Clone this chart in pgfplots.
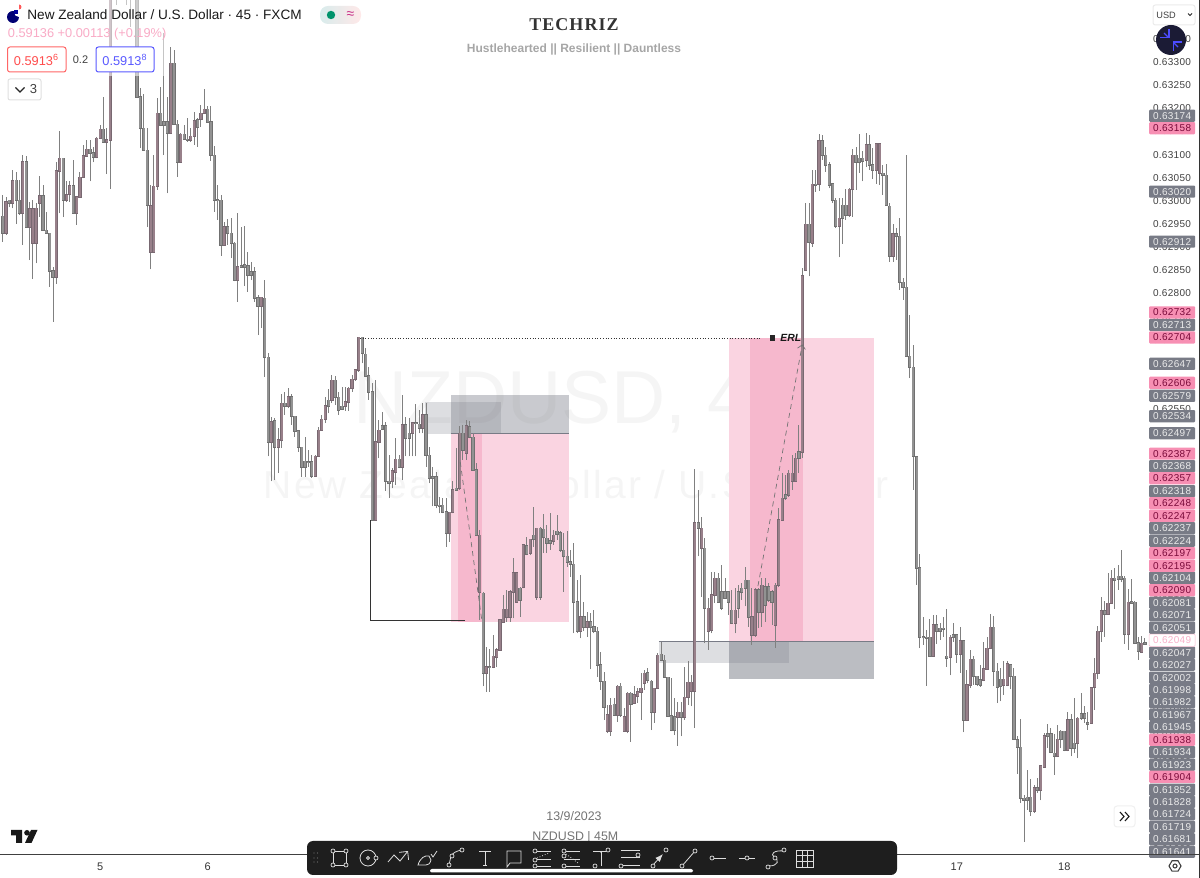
\documentclass[border=0pt]{standalone}
\usepackage{fontspec}
\setmainfont{Liberation Sans}
\newfontfamily\tagf[LetterSpace=3]{Liberation Sans}
\newfontfamily\serf{Liberation Serif}
\usepackage{pgfplots}
\usepackage{pgfplotstable}
\pgfplotsset{compat=1.18}
\usetikzlibrary{arrows.meta}
\newcommand{\fs}[1]{\fontsize{#1}{#1}\selectfont}
\definecolor{wick}{HTML}{808080}
\definecolor{gbody}{HTML}{929292}
\definecolor{gedge}{HTML}{707070}
\definecolor{mbody}{HTML}{98808A}
\definecolor{medge}{HTML}{786871}
\definecolor{palepink}{HTML}{FAD4E1}
\definecolor{darkpink}{HTML}{F6B8CD}
\definecolor{tvgray}{HTML}{787B86}
\definecolor{tagpink}{HTML}{F78FB3}
\definecolor{tagtext}{HTML}{7A0B3A}
\definecolor{bar}{HTML}{1E1E1E}
\definecolor{ico}{HTML}{DDDDDD}
\tikzset{tagnode/.style={anchor=center,inner sep=0pt,minimum width=23pt,minimum height=6.1pt,rounded corners=0.5pt,font=\tagf\fs{5}}}
\pgfplotsset{stick/.style 2 args={no marks,draw=none,forget plot,error bars/.cd,y dir=both,y explicit,error mark=none,error bar style={draw=#1,line width=#2}}}

% prices in 1e-5 units: k high low bodytop bodybottom up
\pgfplotstableread{
k h l t b u
0 63013 62912 62967 62930 0
1 63009 62926 62998 62930 1
2 63002 62986 63002 62995 0
3 63067 62984 63044 62995 1
4 63063 62950 63045 63001 0
5 63045 62970 63001 62973 0
6 63099 62905 63085 62973 1
7 63096 62944 63085 62944 0
8 62998 62872 62983 62944 1
9 63002 62831 62983 62908 1
10 62995 62865 62984 62908 1
11 63054 62966 63011 62995 1
12 63034 62937 63011 62937 0
13 62977 62930 62937 62931 0
14 62930 62815 62930 62849 0
15 62858 62739 62849 62835 0
16 63085 62821 63065 62835 1
17 63150 62973 63092 63065 1
18 63092 62965 63092 63001 0
19 63042 62998 63013 63001 1
20 63042 62998 63033 63015 1
21 63088 62973 63033 62973 0
22 63009 62948 63009 62973 1
23 63063 63009 63051 63009 1
24 63121 63049 63098 63051 1
25 63132 63097 63112 63098 1
26 63132 63042 63112 63104 0
27 63117 63083 63104 63094 0
28 63139 63092 63135 63094 1
29 63164 63135 63155 63135 1
30 63225 63128 63155 63128 0
31 63157 63058 63132 63128 1
32 63480 63026 63450 63132 1
33 63500 63440 63490 63450 0
34 63470 63423 63460 63440 0
35 63520 63450 63500 63460 1
36 63530 63450 63510 63470 0
37 63480 63423 63470 63450 0
38 63490 63376 63480 63450 0
39 63520 63440 63500 63460 0
40 63480 63222 63470 63225 0
41 63243 63114 63225 63157 0
42 63232 63110 63157 63110 0
43 63157 62944 63110 62991 0
44 63034 62852 62990 62889 1
45 63099 62889 63032 62889 1
46 63222 63024 63189 63032 1
47 63247 63164 63189 63164 0
48 63362 63099 63171 63164 0
49 63225 63016 63171 63146 0
50 63332 63146 63297 63146 1
51 63326 63164 63297 63166 0
52 63175 63052 63166 63085 0
53 63146 63085 63144 63085 1
54 63164 63132 63144 63133 0
55 63178 63128 63133 63132 0
56 63157 63128 63140 63132 1
57 63193 63121 63173 63140 1
58 63178 63117 63175 63160 0
59 63207 63160 63189 63176 1
60 63241 63189 63198 63189 1
61 63204 63171 63198 63171 0
62 63204 63087 63171 63099 0
63 63119 62977 63099 63002 0
64 63034 62959 63003 63002 0
65 63013 62881 63002 62905 0
66 62955 62905 62944 62905 1
67 62960 62905 62944 62930 0
68 62962 62876 62930 62908 0
69 62912 62826 62908 62829 0
70 62973 62782 62858 62829 1
71 62944 62858 62860 62858 0
72 62946 62816 62862 62858 0
73 62890 62804 62860 62840 0
74 62869 62829 62847 62840 0
75 62858 62782 62847 62790 0
76 62797 62710 62791 62772 0
77 62793 62725 62792 62772 1
78 62829 62620 62790 62662 0
79 62672 62448 62662 62480 0
80 62534 62394 62523 62480 1
81 62530 62397 62525 62469 0
82 62509 62412 62484 62469 1
83 62583 62466 62563 62484 1
84 62588 62538 62563 62557 0
85 62595 62552 62577 62557 1
86 62583 62516 62577 62535 0
87 62535 62491 62535 62504 0
88 62505 62458 62504 62468 0
89 62469 62404 62468 62426 0
90 62489 62404 62438 62426 0
91 62462 62426 62437 62435 0
92 62451 62401 62437 62406 0
93 62451 62404 62449 62406 1
94 62511 62448 62505 62449 1
95 62538 62505 62528 62505 1
96 62577 62520 62558 62528 1
97 62593 62541 62569 62557 0
98 62624 62563 62613 62570 1
99 62622 62559 62613 62576 0
100 62588 62538 62576 62548 0
101 62599 62548 62556 62550 0
102 62599 62547 62566 62556 1
103 62599 62547 62595 62566 1
104 62624 62588 62615 62595 1
105 62636 62612 62635 62615 1
106 62705 62631 62705 62635 1
107 62705 62649 62705 62671 0
108 62682 62620 62669 62622 0
109 62642 62570 62622 62588 0
110 62606 62311 62588 62311 0
111 62613 62311 62480 62311 1
112 62527 62444 62505 62480 1
113 62545 62505 62514 62507 0
114 62523 62374 62514 62394 0
115 62451 62358 62394 62391 0
116 62422 62379 62417 62394 1
117 62487 62386 62442 62415 1
118 62451 62422 62442 62426 0
119 62581 62397 62516 62426 1
120 62534 62448 62516 62487 0
121 62530 62448 62498 62487 0
122 62521 62448 62521 62499 1
123 62561 62448 62521 62520 0
124 62548 62498 62518 62509 0
125 62563 62498 62538 62509 1
126 62564 62426 62538 62451 0
127 62469 62390 62451 62401 0
128 62426 62340 62404 62401 0
129 62415 62336 62404 62343 0
130 62361 62325 62343 62340 0
131 62358 62325 62343 62329 0
132 62358 62253 62329 62282 0
133 62329 62264 62327 62283 1
134 62394 62325 62376 62329 1
135 62466 62376 62379 62376 0
136 62514 62376 62498 62379 1
137 62516 62440 62498 62462 0
138 62527 62440 62514 62455 1
139 62525 62487 62512 62489 0
140 62498 62419 62489 62419 0
141 62433 62278 62419 62278 0
142 62289 62095 62278 62156 1
143 62156 61951 62152 61980 0
144 62037 61940 61994 61981 1
145 62031 61940 61994 61993 0
146 62062 61990 62016 61993 1
147 62034 61993 62030 62014 1
148 62095 62029 62095 62030 1
149 62149 62091 62118 62091 1
150 62160 62091 62118 62102 1
151 62160 62091 62156 62102 1
152 62228 62098 62197 62156 1
153 62199 62134 62197 62134 1
154 62167 62102 62163 62137 0
155 62257 62163 62257 62165 1
156 62275 62235 62255 62237 0
157 62269 62235 62269 62239 1
158 62338 62253 62278 62269 0
159 62293 62138 62293 62145 1
160 62296 62138 62293 62145 0
161 62324 62239 62291 62273 0
162 62300 62239 62271 62260 0
163 62325 62246 62266 62260 0
164 62289 62257 62278 62266 1
165 62322 62268 62286 62281 0
166 62286 62242 62283 62245 0
167 62282 62156 62245 62232 0
168 62286 62210 62232 62221 0
169 62246 62188 62221 62215 0
170 62260 62066 62215 62134 0
171 62181 62066 62134 62070 0
172 62192 62055 62102 62070 1
173 62134 62070 62102 62080 0
174 62113 62059 62091 62080 1
175 62109 61988 62091 62080 0
176 62116 62066 62080 62070 0
177 62080 61972 62070 61998 0
178 62026 61944 61998 61962 0
179 61983 61879 61962 61906 0
180 61911 61850 61890 61854 1
181 61926 61845 61911 61854 1
182 61926 61890 61913 61890 0
183 61954 61875 61951 61890 1
184 61958 61886 61951 61890 0
185 61904 61854 61886 61854 1
186 61940 61850 61936 61854 1
187 61940 61832 61936 61913 0
188 61951 61915 61933 61915 1
189 61947 61915 61940 61931 1
190 61980 61879 61947 61940 1
191 61987 61944 61980 61959 1
192 61990 61958 61981 61964 0
193 61965 61857 61962 61895 0
194 61947 61873 61947 61895 1
195 62023 61947 62019 61947 1
196 62048 62005 62021 62008 0
197 62019 61971 62008 61972 0
198 61972 61886 61971 61888 0
199 61969 61854 61888 61857 0
200 61926 61846 61886 61857 0
201 61918 61823 61895 61885 1
202 61918 61843 61895 61886 0
203 61994 61879 61928 61886 1
204 62005 61911 61960 61928 1
205 61976 61908 61960 61941 1
206 62420 61861 62305 61941 1
207 62376 62232 62305 62293 0
208 62318 62145 62293 62250 1
209 62271 62044 62250 62120 0
210 62142 62030 62120 62070 1
211 62199 62066 62149 62072 1
212 62199 62131 62185 62149 1
213 62196 62134 62185 62134 0
214 62214 62116 62156 62120 0
215 62185 62142 62156 62142 0
216 62156 62106 62156 62134 0
217 62160 62088 62116 62088 0
218 62163 62066 62116 62088 1
219 62170 62098 62156 62120 0
220 62174 62138 62163 62156 0
221 62210 62124 62180 62163 0
222 62181 62080 62180 62102 0
223 62163 62041 62102 62062 1
224 62163 62059 62160 62062 1
225 62163 62077 62160 62113 0
226 62185 62080 62170 62113 1
227 62185 62091 62167 62127 0
228 62174 62134 62167 62138 0
229 62160 62084 62156 62134 0
230 62174 62034 62170 62084 1
231 62336 62165 62311 62170 1
232 62412 62309 62358 62311 1
233 62408 62354 62365 62358 0
234 62419 62361 62412 62365 1
235 62451 62376 62412 62394 1
236 62455 62394 62444 62394 1
237 62516 62412 62458 62444 0
238 62855 62445 62838 62458 1
239 62995 62851 62950 62851 1
240 62995 62837 62950 62912 0
241 63067 62901 63036 62910 1
242 63067 63020 63036 63035 0
243 63145 63022 63130 63037 1
244 63143 63089 63130 63099 0
245 63116 63063 63099 63078 0
246 63085 63027 63078 63035 0
247 63038 62995 63037 63002 0
248 63006 62941 63002 62945 0
249 63006 62878 62963 62945 1
250 63006 62907 62991 62963 0
251 63025 62959 62991 62970 0
252 63027 62966 63025 62970 1
253 63112 62966 63099 63025 1
254 63117 63024 63099 63085 0
255 63145 63061 63092 63085 0
256 63107 63042 63092 63087 0
257 63146 63073 63121 63089 1
258 63143 63067 63121 63078 0
259 63114 63047 63078 63067 0
260 63123 63037 63123 63067 1
261 63123 63035 63123 63060 1
262 63078 63013 63060 63056 0
263 63080 62989 63056 62991 0
264 62995 62869 62989 62881 0
265 62950 62869 62929 62881 1
266 62941 62873 62929 62924 0
267 62963 62808 62924 62824 0
268 62833 62786 62824 62814 0
269 63099 62664 62814 62664 0
270 62754 62617 62664 62641 0
271 62689 62376 62641 62448 0
272 62448 62171 62447 62208 0
273 62238 62034 62208 62057 0
274 62102 62041 62059 62057 0
275 62074 61953 62058 62056 0
276 62097 62016 62057 62017 0
277 62106 62017 62084 62017 1
278 62106 62043 62084 62070 0
279 62088 62052 62077 62070 0
280 62102 62059 62077 62075 0
281 62119 61994 62016 62012 0
282 62063 61975 62057 62015 1
283 62088 62048 62063 62058 0
284 62063 62002 62063 62021 0
285 62079 61981 62050 62021 1
286 62050 61852 62050 61879 0
287 61987 61876 61955 61878 1
288 62030 61948 62010 61955 1
289 62016 61955 62010 61973 0
290 61973 61951 61973 61957 0
291 61998 61950 61966 61955 0
292 62048 61962 61989 61966 1
293 62059 61987 62034 61989 1
294 62107 62034 62079 62034 1
295 62104 61951 62079 61984 0
296 62002 61915 61984 61950 0
297 61992 61919 61967 61951 0
298 62005 61933 61967 61955 1
299 62007 61951 62000 61955 1
300 61998 61945 61998 61973 0
301 61992 61837 61973 61837 0
302 61843 61763 61836 61820 0
303 61881 61699 61820 61710 0
304 61717 61616 61710 61705 0
305 61771 61685 61712 61705 0
306 61751 61672 61712 61681 0
307 61739 61678 61732 61681 1
308 61753 61721 61732 61728 0
309 61780 61705 61780 61728 1
310 61850 61777 61845 61778 1
311 61871 61818 61849 61845 0
312 61861 61807 61849 61809 0
313 61849 61760 61807 61801 0
314 61868 61801 61837 61801 1
315 61858 61818 61854 61837 0
316 61854 61811 61854 61813 0
317 61895 61811 61879 61814 1
318 61892 61800 61879 61818 0
319 61926 61807 61829 61818 0
320 61886 61796 61883 61830 1
321 61937 61879 61892 61883 0
322 61908 61873 61892 61883 0
323 61895 61858 61873 61871 0
324 61950 61871 61948 61872 1
325 62012 61901 61980 61950 1
326 62082 61967 62070 61980 1
327 62144 62048 62115 62070 1
328 62135 62059 62115 62108 0
329 62196 62106 62131 62108 1
330 62203 62130 62185 62131 1
331 62207 62118 62185 62182 0
332 62214 62160 62189 62183 0
333 62246 62176 62189 62184 0
334 62189 62043 62185 62065 0
335 62161 62030 62133 62065 1
336 62183 62131 62134 62131 0
337 62135 62045 62133 62046 0
338 62059 62009 62046 62027 0
339 62061 62025 62045 62025 1
340 62056 62041 62046 62043 0
}\candles

\pgfplotstableread{
y lab
63184 0.63174
63020 0.63020
62912 0.62912
62732 0.62713
62648 0.62647
62579 0.62579
62535 0.62534
62498 0.62497
62427 0.62368
62373 0.62318
62293 0.62237
62266 0.62224
62186 0.62104
62132 0.62081
62105 0.62071
62078 0.62051
62024 0.62047
61998 0.62027
61970 0.62002
61944 0.61998
61917 0.61982
61890 0.61967
61863 0.61945
61809 0.61934
61782 0.61923
61728 0.61852
61702 0.61828
61675 0.61724
61648 0.61719
61621 0.61681
61594 0.61641
}\taggray
\pgfplotstableread{
y lab
63157 0.63158
62759 0.62732
62705 0.62704
62607 0.62606
62454 0.62387
62401 0.62357
62347 0.62248
62320 0.62247
62239 0.62197
62212 0.62195
62159 0.62090
61836 0.61938
61756 0.61904
}\tagpinks

\begin{document}
\begin{tikzpicture}
\path[use as bounding box] (0,-11.5pt) rectangle (600pt,427.5pt);
% watermark behind everything
\begin{scope}[shift={(0pt,427.5pt)},x=0.5pt,y=-0.5pt]
\node[text=black!4,anchor=center] at (572,402) {\fs{37.5}NZDUSD, 45};
\node[text=black!4,anchor=center] at (576,485) {\fs{19.5}\addfontfeature{LetterSpace=6}New Zealand Dollar / U.S. Dollar};
\end{scope}
\begin{axis}[
  scale only axis, width=574pt, height=427.5pt,
  xmin=-0.8, xmax=340.9, ymin=61587, ymax=63434,
  axis line style={draw=none}, major tick length=0pt,
  scaled ticks=false,
  xtick={29,61,284,316}, xticklabels={5,6,17,18},
  xticklabel style={font=\fs{5.5},text=black!80,yshift=-0.5pt},
  ytick={61600,61650,...,63350},
  yticklabels={0.61600,0.61650,0.61700,0.61750,0.61800,0.61850,0.61900,0.61950,0.62000,0.62050,0.62100,0.62150,0.62200,0.62250,0.62300,0.62350,0.62400,0.62450,0.62500,0.62550,0.62600,0.62650,0.62700,0.62750,0.62800,0.62850,0.62900,0.62950,0.63000,0.63050,0.63100,0.63150,0.63200,0.63250,0.63300,0.63350},
  yticklabel pos=right,
  yticklabel style={font=\tagf\fs{5},text=black!75,anchor=center,xshift=12pt},
]
% zones
\addplot[fill=palepink,draw=none,forget plot] coordinates {(133.4,62499)(168.5,62499)(168.5,62090)(133.4,62090)} --cycle;
\addplot[fill=darkpink,draw=none,forget plot] coordinates {(135.5,62499)(142.6,62499)(142.6,62090)(135.5,62090)} --cycle;
\addplot[fill=palepink,draw=none,forget plot] coordinates {(216.2,62704)(259.3,62704)(259.3,62049)(216.2,62049)} --cycle;
\addplot[fill=darkpink,draw=none,forget plot] coordinates {(222.3,62704)(238.3,62704)(238.3,62049)(222.3,62049)} --cycle;
\addplot[fill=tvgray,fill opacity=0.4,draw=none,forget plot] coordinates {(133.4,62581)(168.5,62581)(168.5,62497)(133.4,62497)} --cycle;
\addplot[fill=tvgray,fill opacity=0.25,draw=none,forget plot] coordinates {(125.7,62565)(148.3,62565)(148.3,62497)(125.7,62497)} --cycle;
\addplot[fill=tvgray,fill opacity=0.5,draw=none,forget plot] coordinates {(216.2,62049)(259.3,62049)(259.3,61968)(216.2,61968)} --cycle;
\addplot[fill=tvgray,fill opacity=0.25,draw=none,forget plot] coordinates {(195.3,62049)(234,62049)(234,62001)(195.3,62001)} --cycle;
\addplot[draw=tvgray,line width=0.4pt,forget plot] coordinates {(195.3,62049)(259.3,62049)};
\addplot[draw=tvgray,line width=0.4pt,forget plot] coordinates {(133.4,62497)(168.5,62497)};
% candles: wicks, then body edge and body fill as thick sticks
\addplot[stick={wick}{0.5pt}]
  table[x=k,y=l,y error plus expr=\thisrow{h}-\thisrow{l},y error minus expr=0] {\candles};
\addplot[stick={gedge}{1.6pt}]
  table[x expr={\thisrow{u}==0 ? \thisrow{k} : nan},y=b,y error plus expr=\thisrow{t}-\thisrow{b}+1,y error minus expr=1] {\candles};
\addplot[stick={gbody}{1pt}]
  table[x expr={\thisrow{u}==0 ? \thisrow{k} : nan},y=b,y error plus expr=\thisrow{t}-\thisrow{b},y error minus expr=0] {\candles};
\addplot[stick={medge}{1.6pt}]
  table[x expr={\thisrow{u}==1 ? \thisrow{k} : nan},y=b,y error plus expr=\thisrow{t}-\thisrow{b}+1,y error minus expr=1] {\candles};
\addplot[stick={mbody}{1pt}]
  table[x expr={\thisrow{u}==1 ? \thisrow{k} : nan},y=b,y error plus expr=\thisrow{t}-\thisrow{b},y error minus expr=0] {\candles};
% drawn lines
\addplot[draw=black!80,line width=0.5pt,forget plot] coordinates {(109.6,62311)(109.6,62094)(137.6,62094)};
\addplot[draw=black!80,line width=0.35pt,densely dotted,forget plot] coordinates {(106.3,62704)(225.7,62704)};
\addplot[draw=black!55,line width=0.35pt,dash pattern=on 2.5pt off 2pt,forget plot] coordinates {(136.2,62436)(142.6,62094)};
\addplot[draw=black!55,line width=0.35pt,dash pattern=on 2.5pt off 2pt,-{Straight Barb[length=2pt]},forget plot] coordinates {(224.8,62168)(238,62690)};
\end{axis}
% price tags on top of the tick labels
\begin{axis}[
  hide axis, scale only axis, width=600pt, height=427.5pt,
  xmin=-0.8, xmax=356.3, ymin=61587, ymax=63434, clip=false,
]
\addplot[no marks,draw=none,point meta=explicit symbolic,nodes near coords,
  every node near coord/.style={tagnode,fill=tvgray,text=white!92!black}]
  table[x expr=348,y=y,meta=lab] {\taggray};
\addplot[no marks,draw=none,point meta=explicit symbolic,nodes near coords,
  every node near coord/.style={tagnode,fill=tagpink,text=tagtext}]
  table[x expr=348,y=y,meta=lab] {\tagpinks};
\addplot[no marks,draw=none,point meta=explicit symbolic,nodes near coords,
  every node near coord/.style={tagnode,fill=white,draw=tagpink!60,line width=0.3pt,text=tagpink!70}]
  table[x expr=348,y=y,meta=lab] {
y lab
62051 0.62049
};
\end{axis}
% chart window furniture, in screen pixels
\begin{scope}[shift={(0pt,427.5pt)},x=0.5pt,y=-0.5pt]
\fill[white,opacity=0.55] (0,0) rectangle (165,76);
\draw[black!75,line width=0.5pt] (0,855) -- (1199,855);
\draw[black!80,line width=0.5pt] (1199.5,0) -- (1199.5,878);
% header
\fill[blue!45!black] (13,17) circle (6);
\fill[white] (19,12) circle (5);
\fill[red!65] (19,9.5) arc (90:-90:2.5) -- cycle;
\fill[blue!60!black] (14,10) rectangle (18,14);
\node[anchor=west,inner sep=0pt,text=black!90] at (27,15) {\fs{6.8}New Zealand Dollar / U.S. Dollar · 45 · FXCM};
\shade[left color=teal!15,right color=pink!35,rounded corners=4pt] (320,6) rectangle (361,24);
\fill[teal!85!green] (331,15) circle (4.2);
\node[text=magenta!80!black,inner sep=0pt] at (350.5,15) {\fs{7}≈};
\node[anchor=west,inner sep=0pt,text=tagpink!75] at (7.5,34.5) {\fs{6.4}0.59136 +0.00113 (+0.19\%)};
\draw[red!60,line width=0.5pt,fill=white,rounded corners=1.2pt] (7.5,47) rectangle (66,72);
\node[text=red!70,inner sep=0pt] at (36.5,59.5) {\fs{6.4}0.5913\textsuperscript{6}};
\node[text=black!75,inner sep=0pt] at (80.5,60) {\fs{5.5}0.2};
\draw[blue!65,line width=0.5pt,fill=white,rounded corners=1.2pt] (96,47) rectangle (154,72);
\node[text=blue!65,inner sep=0pt] at (125,59.5) {\fs{6.4}0.5913\textsuperscript{8}};
\draw[black!12,line width=0.5pt,fill=white,rounded corners=1pt] (8,79) rectangle (41,100);
\draw[black!85,line width=0.6pt] (15.5,87.5) -- (20,92) -- (24.5,87.5);
\node[text=black!75,inner sep=0pt] at (33.5,89.5) {\fs{6.5}3};
% title
\node[text=black!80] at (574,25) {\serf\bfseries\fs{9}\addfontfeature{LetterSpace=6}TECHRIZ};
\node[text=black!35] at (574,49) {\bfseries\fs{6}Hustlehearted || Resilient || Dauntless};
% ERL
\fill[black!85] (769.5,335.5) rectangle (775,341);
\node[anchor=west,inner sep=0pt,text=black!90] at (780,338) {\bfseries\itshape\fs{5.2}ERL};
% top right
\draw[black!8,line width=0.5pt,fill=white,rounded corners=1.2pt] (1153,5) rectangle (1195,25);
\node[anchor=west,inner sep=0pt,text=black!75] at (1156,15) {\fs{4.6}USD};
\draw[black!85,line width=0.5pt] (1188,13.5) -- (1190,15.5) -- (1192,13.5);
\fill[bar!90!blue] (1171,40) circle (15);
\draw[blue!70!white,line width=0.55pt,-{Straight Barb[length=3pt]}] (1164,33) -- (1169.5,38.5);
\draw[blue!70!white,line width=0.55pt,-{Straight Barb[length=3pt]}] (1178,47) -- (1172.5,41.5);
% bottom furniture
\fill[black!90] (11,830) -- (22,830) -- (22,843) -- (16,843) -- (16,835.5) -- (11,835.5) -- cycle;
\fill[black!90] (27,832.8) circle (2.8);
\fill[black!90] (31,830) -- (37.5,830) -- (31.5,843) -- (25,843) -- cycle;
\node[text=black!55,inner sep=0pt] at (574,816) {\fs{6.2}13/9/2023};
\node[text=black!55,inner sep=0pt,anchor=west] at (532,837) {\fs{6.2}NZDUSD | 45M};
\fill[white] (1114,806) rectangle (1135,827);
\draw[black!6,line width=0.5pt,rounded corners=1.5pt] (1114,806) rectangle (1135,827);
\draw[black!90,line width=0.55pt] (1120,812) -- (1124,816.5) -- (1120,821) (1125,812) -- (1129,816.5) -- (1125,821);
\draw[black!75,line width=0.55pt] (1169,866) -- (1172,860.8) -- (1178,860.8) -- (1181,866) -- (1178,871.2) -- (1172,871.2) -- cycle;
\draw[black!75,line width=0.55pt] (1175,866) circle (2);
% toolbar
\fill[bar,rounded corners=3pt] (307,841) rectangle (897,875);
\foreach \dx in {314,317.5} \foreach \dy in {853,858,862} \fill[black!55] (\dx,\dy) circle (0.7);
\tikzset{hd/.style={draw=ico,fill=bar,line width=0.35pt},ln/.style={draw=ico,line width=0.4pt}}
\newcommand{\hnd}[2]{\path[hd] (#1,#2) circle (2);}
\path[ln] (333,851) rectangle (346,865); \hnd{333}{851}\hnd{346}{851}\hnd{333}{865}\hnd{346}{865}
\path[ln] (368,858) circle (8); \path[ln] (368,858) circle (1.5); \hnd{376}{858}
\path[ln,-{Straight Barb[length=3pt]}] (388,862) -- (394,855) -- (400,861) -- (408,851);
\path[ln] (418,865) .. controls (420,858) and (425,855) .. (429,856) -- (431,860) .. controls (430,864) and (428,865) .. (426,865) -- cycle;
\path[ln] (431,854) -- (433,857) -- (437,851);
\path[ln] (449,865) -- (451,856) .. controls (453,853) and (456,851) .. (462,850); \hnd{449}{865}\hnd{452}{856}\hnd{462}{850}
\path[ln] (479,851) -- (491,851) (485,851) -- (485,865) (483,865) -- (487,865);
\path[ln] (507,867) -- (507,851) -- (521,851) -- (521,863) -- (510,863) -- cycle;
\path[ln] (535,851) -- (551,851) (535,859.5) -- (551,859.5) (535,866) -- (551,866); \path[ln,densely dotted] (537,858) -- (549,853); \hnd{535}{851}\hnd{535}{860}\hnd{535}{866}
\path[ln] (564,851) -- (580,851) (564,859.5) -- (580,859.5) (564,866) -- (580,866); \path[ln,densely dotted] (566,854) -- (578,863); \hnd{564}{851}\hnd{564}{856}\hnd{564}{866}
\path[ln] (593,851) -- (606,851) (601,852) -- (601,866); \hnd{608}{850}\hnd{595}{866}\fill[ico] (601,852) circle (1);
\path[ln] (621,850) -- (640,850) (621,857.5) -- (640,857.5) (621,865) -- (640,865); \hnd{638}{855}\hnd{621}{866}
\path[ln,-{Latex[length=4pt]}] (653,865) -- (663,854); \hnd{653}{866}\hnd{666}{850}
\path[ln] (682,866) -- (695,851); \hnd{682}{866}\hnd{695}{851}
\path[ln] (713,858) -- (726,858); \hnd{712}{858}
\path[ln] (739,858) -- (755,858); \hnd{747}{858}
\path[ln] (769,866) .. controls (778,866) and (780,860) .. (774,857) .. controls (770,854) and (774,850) .. (784,851); \hnd{768}{867}\hnd{775}{858}\hnd{784}{850}
\path[ln] (796,850) rectangle (813,867) (796,855.5) -- (813,855.5) (796,861) -- (813,861) (802,850) -- (802,867) (807.5,850) -- (807.5,867);
\fill[white,rounded corners=1pt] (430,869) rectangle (693,872.5);
\end{scope}
\end{tikzpicture}
\end{document}
